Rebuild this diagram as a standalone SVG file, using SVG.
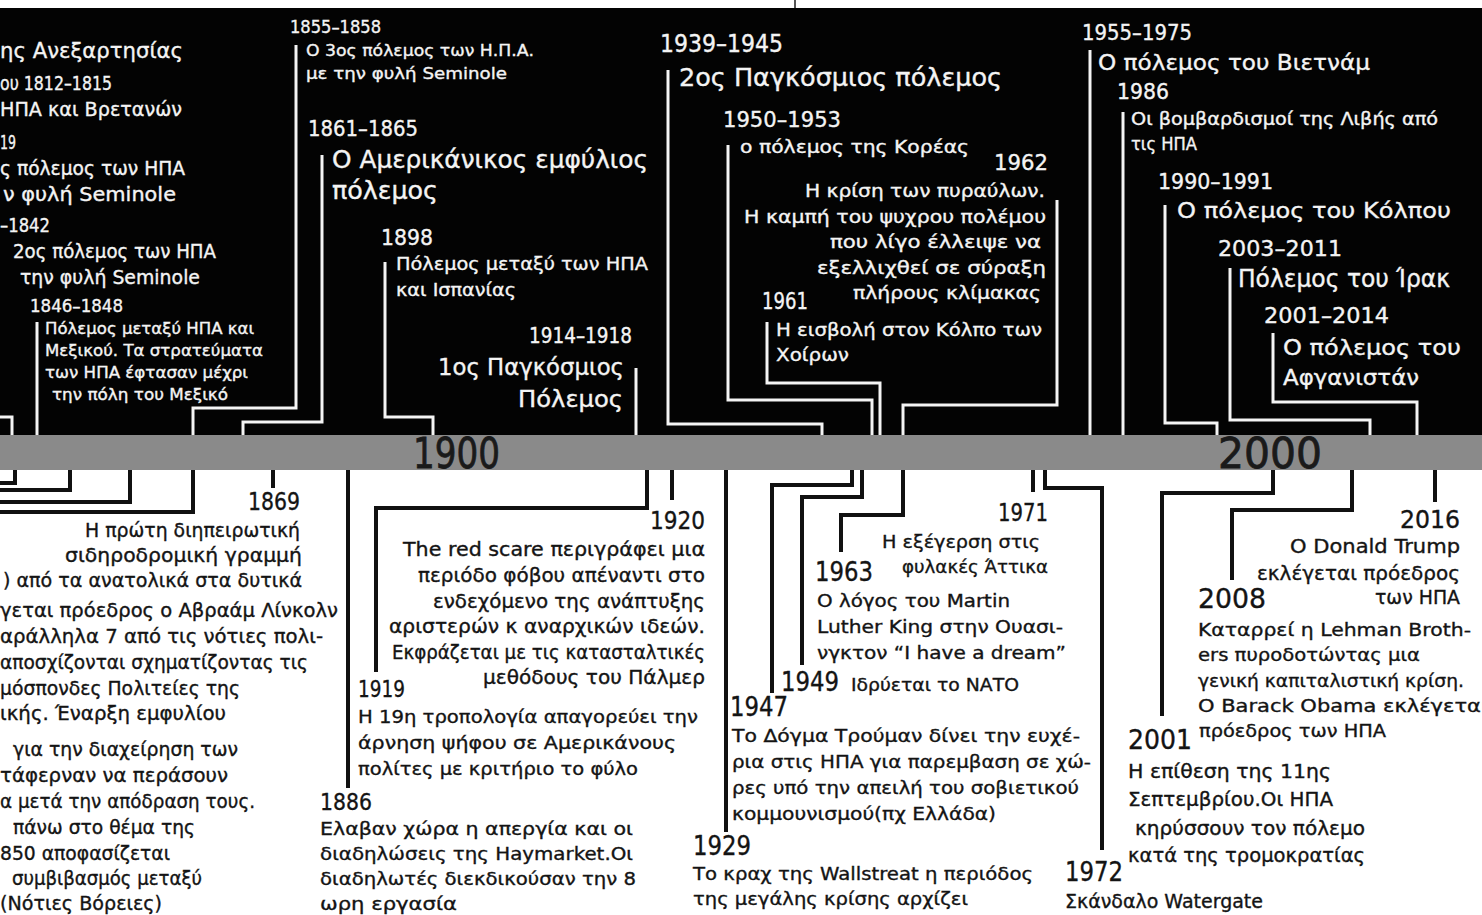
<svg xmlns="http://www.w3.org/2000/svg" width="1482" height="915" viewBox="0 0 1482 915">
<style>
text{font-family:"DejaVu Sans","Noto Sans",sans-serif;}
.w{fill:#f4f4f4;stroke:#f4f4f4;stroke-width:0.35;}
.k{fill:#141414;stroke:#141414;stroke-width:0.35;}
.lw{fill:none;stroke:#f4f4f4;stroke-width:3;}
.lk{fill:none;stroke:#111;stroke-width:4;}
.yr{font-size:43px;fill:#1a1a1a;stroke:#1a1a1a;stroke-width:0.8;}
</style>
<rect x="0" y="0" width="1482" height="915" fill="#fff"/>
<rect x="0" y="8" width="1482" height="427" fill="#030303"/>
<line x1="795" y1="0" x2="795" y2="8" stroke="#555" stroke-width="2"/>
<rect x="0" y="435" width="1482" height="35" fill="#8a8a8a"/>
<g id="axis-labels">
<text class="yr" x="413" y="468" textLength="87" lengthAdjust="spacingAndGlyphs">1900</text>
<text class="yr" x="1218" y="468" textLength="104" lengthAdjust="spacingAndGlyphs">2000</text>
</g>
<g id="connectors">
<polyline class="lw" points="37,322 37,435"/>
<polyline class="lw" points="0,417 12,417 12,435"/>
<polyline class="lw" points="296,45 296,408 193,408 193,435"/>
<polyline class="lw" points="322,155 322,422 243,422 243,435"/>
<polyline class="lw" points="385,262 385,417 433,417 433,435"/>
<polyline class="lw" points="636,368 636,435"/>
<polyline class="lw" points="668,70 668,424 822,424 822,435"/>
<polyline class="lw" points="728,145 728,400 872,400 872,435"/>
<polyline class="lw" points="767,322 767,383 880,383 880,435"/>
<polyline class="lw" points="1057,200 1057,405 903,405 903,435"/>
<polyline class="lw" points="1090,50 1090,435"/>
<polyline class="lw" points="1123,112 1123,435"/>
<polyline class="lw" points="1165,205 1165,423 1217,423 1217,435"/>
<polyline class="lw" points="1230,268 1230,420 1370,420 1370,435"/>
<polyline class="lw" points="1273,333 1273,402 1417,402 1417,435"/>
<polyline class="lk" points="15,470 15,483 0,483"/>
<polyline class="lk" points="70,470 70,490 0,490"/>
<polyline class="lk" points="130,470 130,502 0,502"/>
<polyline class="lk" points="193,470 193,512 0,512"/>
<polyline class="lk" points="273,470 273,488"/>
<polyline class="lk" points="348,470 348,788"/>
<polyline class="lk" points="647,470 647,508 376,508 376,672"/>
<polyline class="lk" points="672,470 672,500"/>
<polyline class="lk" points="726,470 726,832"/>
<polyline class="lk" points="852,470 852,485 772,485 772,693"/>
<polyline class="lk" points="862,470 862,497 802,497 802,665"/>
<polyline class="lk" points="903,470 903,515 841,515 841,552"/>
<polyline class="lk" points="1033,470 1033,492"/>
<polyline class="lk" points="1045,470 1045,488 1102,488 1102,850"/>
<polyline class="lk" points="1273,470 1273,493 1162,493 1162,716"/>
<polyline class="lk" points="1352,470 1352,510 1232,510 1232,580"/>
<polyline class="lk" points="1435,470 1435,502"/>
</g>
<g id="ev-left-top" class="w">
<text x="0" y="58" font-size="22" textLength="183" lengthAdjust="spacingAndGlyphs">ης Ανεξαρτησίας</text>
<text x="0" y="90" font-size="19" textLength="112" lengthAdjust="spacingAndGlyphs">ου 1812–1815</text>
<text x="0" y="116" font-size="19" textLength="182" lengthAdjust="spacingAndGlyphs">ΗΠΑ και  Βρετανών</text>
<text x="0" y="149" font-size="19" textLength="16" lengthAdjust="spacingAndGlyphs">19</text>
<text x="0" y="175" font-size="19" textLength="185" lengthAdjust="spacingAndGlyphs">ς πόλεμος των ΗΠΑ</text>
<text x="3" y="201" font-size="19" textLength="173" lengthAdjust="spacingAndGlyphs">ν φυλή Seminole</text>
<text x="0" y="232" font-size="19" textLength="50" lengthAdjust="spacingAndGlyphs">–1842</text>
<text x="13" y="258" font-size="19" textLength="203" lengthAdjust="spacingAndGlyphs">2ος πόλεμος των ΗΠΑ</text>
<text x="20" y="284" font-size="19" textLength="180" lengthAdjust="spacingAndGlyphs">την φυλή Seminole</text>
</g>
<g id="ev-1846" class="w">
<text x="30" y="312" font-size="17" textLength="93" lengthAdjust="spacingAndGlyphs">1846–1848</text>
<text x="45" y="334" font-size="15.5" textLength="209" lengthAdjust="spacingAndGlyphs">Πόλεμος μεταξύ ΗΠΑ και</text>
<text x="45" y="356" font-size="15.5" textLength="218" lengthAdjust="spacingAndGlyphs">Μεξικού. Τα στρατεύματα</text>
<text x="45" y="378" font-size="15.5" textLength="203" lengthAdjust="spacingAndGlyphs">των ΗΠΑ έφτασαν μέχρι</text>
<text x="52" y="400" font-size="15.5" textLength="176" lengthAdjust="spacingAndGlyphs">την πόλη του Μεξικό</text>
</g>
<g id="ev-1855" class="w">
<text x="290" y="33" font-size="17" textLength="91" lengthAdjust="spacingAndGlyphs">1855–1858</text>
<text x="306" y="56" font-size="16" textLength="228" lengthAdjust="spacingAndGlyphs">Ο 3ος πόλεμος των Η.Π.Α.</text>
<text x="306" y="79" font-size="16" textLength="201" lengthAdjust="spacingAndGlyphs">με την φυλή Seminole</text>
</g>
<g id="ev-1861" class="w">
<text x="308" y="136" font-size="22" textLength="110" lengthAdjust="spacingAndGlyphs">1861–1865</text>
<text x="332" y="168" font-size="24" textLength="316" lengthAdjust="spacingAndGlyphs">Ο Αμερικάνικος εμφύλιος</text>
<text x="332" y="199" font-size="24" textLength="106" lengthAdjust="spacingAndGlyphs">πόλεμος</text>
</g>
<g id="ev-1898" class="w">
<text x="381" y="245" font-size="22" textLength="52" lengthAdjust="spacingAndGlyphs">1898</text>
<text x="396" y="270" font-size="18" textLength="252" lengthAdjust="spacingAndGlyphs">Πόλεμος μεταξύ των ΗΠΑ</text>
<text x="396" y="296" font-size="18" textLength="120" lengthAdjust="spacingAndGlyphs">και Ισπανίας</text>
</g>
<g id="ev-1914" class="w" text-anchor="end">
<text x="632" y="343" font-size="22" textLength="103" lengthAdjust="spacingAndGlyphs">1914–1918</text>
<text x="624" y="375" font-size="23" textLength="186" lengthAdjust="spacingAndGlyphs">1ος Παγκόσμιος</text>
<text x="623" y="407" font-size="23" textLength="105" lengthAdjust="spacingAndGlyphs">Πόλεμος</text>
</g>
<g id="ev-1939" class="w">
<text x="660" y="52" font-size="24" textLength="123" lengthAdjust="spacingAndGlyphs">1939–1945</text>
<text x="679" y="86" font-size="25" textLength="323" lengthAdjust="spacingAndGlyphs">2ος Παγκόσμιος πόλεμος</text>
</g>
<g id="ev-1950" class="w">
<text x="723" y="127" font-size="22" textLength="118" lengthAdjust="spacingAndGlyphs">1950–1953</text>
<text x="740" y="153" font-size="18" textLength="229" lengthAdjust="spacingAndGlyphs">ο πόλεμος της Κορέας</text>
</g>
<g id="ev-1962" class="w" text-anchor="end">
<text x="1048" y="170" font-size="22" textLength="54" lengthAdjust="spacingAndGlyphs">1962</text>
<text x="1045" y="197" font-size="18" textLength="240" lengthAdjust="spacingAndGlyphs">Η κρίση των πυραύλων.</text>
<text x="1046" y="223" font-size="18" textLength="302" lengthAdjust="spacingAndGlyphs">Η καμπή του ψυχρου πολέμου</text>
<text x="1041" y="248" font-size="18" textLength="211" lengthAdjust="spacingAndGlyphs">που λίγο έλλειψε να</text>
<text x="1046" y="274" font-size="18" textLength="229" lengthAdjust="spacingAndGlyphs">εξελλιχθεί σε σύραξη</text>
<text x="1041" y="299" font-size="18" textLength="188" lengthAdjust="spacingAndGlyphs">πλήρους  κλίμακας</text>
</g>
<g id="ev-1961" class="w">
<text x="762" y="309" font-size="23" textLength="46" lengthAdjust="spacingAndGlyphs">1961</text>
<text x="776" y="336" font-size="18" textLength="266" lengthAdjust="spacingAndGlyphs">Η εισβολή στον Κόλπο των</text>
<text x="776" y="361" font-size="18" textLength="73" lengthAdjust="spacingAndGlyphs">Χοίρων</text>
</g>
<g id="ev-1955" class="w">
<text x="1082" y="40" font-size="22" textLength="110" lengthAdjust="spacingAndGlyphs">1955–1975</text>
<text x="1098" y="70" font-size="22" textLength="272" lengthAdjust="spacingAndGlyphs">Ο πόλεμος του Βιετνάμ</text>
</g>
<g id="ev-1986" class="w">
<text x="1117" y="99" font-size="22" textLength="52" lengthAdjust="spacingAndGlyphs">1986</text>
<text x="1131" y="125" font-size="17" textLength="307" lengthAdjust="spacingAndGlyphs">Οι βομβαρδισμοί της Λιβής από</text>
<text x="1131" y="150" font-size="17" textLength="66" lengthAdjust="spacingAndGlyphs">τις ΗΠΑ</text>
</g>
<g id="ev-1990" class="w">
<text x="1158" y="189" font-size="22" textLength="115" lengthAdjust="spacingAndGlyphs">1990–1991</text>
<text x="1177" y="218" font-size="22" textLength="274" lengthAdjust="spacingAndGlyphs">Ο πόλεμος του Κόλπου</text>
</g>
<g id="ev-2003" class="w">
<text x="1218" y="256" font-size="22" textLength="124" lengthAdjust="spacingAndGlyphs">2003–2011</text>
<text x="1238" y="287" font-size="24" textLength="212" lengthAdjust="spacingAndGlyphs">Πόλεμος του Ίρακ</text>
</g>
<g id="ev-2001-2014" class="w">
<text x="1264" y="323" font-size="22" textLength="125" lengthAdjust="spacingAndGlyphs">2001–2014</text>
<text x="1283" y="355" font-size="22" textLength="178" lengthAdjust="spacingAndGlyphs">Ο πόλεμος του</text>
<text x="1283" y="385" font-size="22" textLength="136" lengthAdjust="spacingAndGlyphs">Αφγανιστάν</text>
</g>
<g id="ev-1869" class="k" text-anchor="end">
<text x="300" y="510" font-size="24" textLength="52" lengthAdjust="spacingAndGlyphs">1869</text>
<text x="300" y="537" font-size="19" textLength="215" lengthAdjust="spacingAndGlyphs">Η πρώτη διηπειρωτική</text>
<text x="302" y="562" font-size="19" textLength="237" lengthAdjust="spacingAndGlyphs">σιδηροδρομική γραμμή</text>
<text x="302" y="587" font-size="19" textLength="299" lengthAdjust="spacingAndGlyphs">)  από τα ανατολικά στα δυτικά</text>
</g>
<g id="ev-left-bottom" class="k">
<text x="0" y="617" font-size="19" textLength="338" lengthAdjust="spacingAndGlyphs">γεται πρόεδρος ο Αβραάμ Λίνκολν</text>
<text x="0" y="643" font-size="19" textLength="323" lengthAdjust="spacingAndGlyphs">αράλληλα 7 από τις νότιες πολι-</text>
<text x="0" y="669" font-size="19" textLength="308" lengthAdjust="spacingAndGlyphs">αποσχίζονται σχηματίζοντας τις</text>
<text x="0" y="695" font-size="19" textLength="240" lengthAdjust="spacingAndGlyphs">μόσπονδες Πολιτείες της</text>
<text x="0" y="720" font-size="19" textLength="226" lengthAdjust="spacingAndGlyphs">ικής. Έναρξη εμφυλίου</text>
<text x="13" y="756" font-size="19" textLength="225" lengthAdjust="spacingAndGlyphs">για την διαχείρηση των</text>
<text x="0" y="782" font-size="19" textLength="228" lengthAdjust="spacingAndGlyphs">τάφερναν να περάσουν</text>
<text x="0" y="808" font-size="19" textLength="255" lengthAdjust="spacingAndGlyphs">α μετά την απόδραση τους.</text>
<text x="13" y="834" font-size="19" textLength="182" lengthAdjust="spacingAndGlyphs">πάνω στο θέμα της</text>
<text x="0" y="860" font-size="19" textLength="170" lengthAdjust="spacingAndGlyphs">850 αποφασίζεται</text>
<text x="12" y="885" font-size="19" textLength="190" lengthAdjust="spacingAndGlyphs">συμβιβασμός μεταξύ</text>
<text x="0" y="910" font-size="19" textLength="162" lengthAdjust="spacingAndGlyphs">(Νότιες Βόρειες)</text>
</g>
<g id="ev-1886" class="k">
<text x="320" y="810" font-size="23" textLength="52" lengthAdjust="spacingAndGlyphs">1886</text>
<text x="320" y="835" font-size="18" textLength="313" lengthAdjust="spacingAndGlyphs">Ελαβαν χώρα η απεργία και οι</text>
<text x="320" y="860" font-size="18" textLength="313" lengthAdjust="spacingAndGlyphs">διαδηλώσεις της Haymarket.Οι</text>
<text x="320" y="885" font-size="18" textLength="316" lengthAdjust="spacingAndGlyphs">διαδηλωτές διεκδικούσαν την 8</text>
<text x="320" y="910" font-size="18" textLength="137" lengthAdjust="spacingAndGlyphs">ωρη εργασία</text>
</g>
<g id="ev-1920" class="k" text-anchor="end">
<text x="705" y="529" font-size="24" textLength="55" lengthAdjust="spacingAndGlyphs">1920</text>
<text x="705" y="556" font-size="19" textLength="302" lengthAdjust="spacingAndGlyphs">The red scare περιγράφει μια</text>
<text x="705" y="582" font-size="19" textLength="287" lengthAdjust="spacingAndGlyphs">περιόδο φόβου απέναντι στο</text>
<text x="705" y="608" font-size="19" textLength="272" lengthAdjust="spacingAndGlyphs">ενδεχόμενο της ανάπτυξης</text>
<text x="705" y="633" font-size="19" textLength="316" lengthAdjust="spacingAndGlyphs">αριστερών κ αναρχικών ιδεών.</text>
<text x="705" y="659" font-size="19" textLength="313" lengthAdjust="spacingAndGlyphs">Εκφράζεται με τις κατασταλτικές</text>
<text x="705" y="684" font-size="19" textLength="222" lengthAdjust="spacingAndGlyphs">μεθόδους του Πάλμερ</text>
</g>
<g id="ev-1919" class="k">
<text x="358" y="697" font-size="23" textLength="47" lengthAdjust="spacingAndGlyphs">1919</text>
<text x="358" y="723" font-size="18" textLength="340" lengthAdjust="spacingAndGlyphs">Η 19η τροπολογία απαγορεύει την</text>
<text x="358" y="749" font-size="18" textLength="318" lengthAdjust="spacingAndGlyphs">άρνηση ψήφου σε Αμερικάνους</text>
<text x="358" y="775" font-size="18" textLength="280" lengthAdjust="spacingAndGlyphs">πολίτες με κριτήριο το φύλο</text>
</g>
<g id="ev-1929" class="k">
<text x="693" y="855" font-size="26" textLength="58" lengthAdjust="spacingAndGlyphs">1929</text>
<text x="693" y="880" font-size="18" textLength="340" lengthAdjust="spacingAndGlyphs">Το κραχ της Wallstreat η περιόδος</text>
<text x="693" y="905" font-size="18" textLength="275" lengthAdjust="spacingAndGlyphs">της μεγάλης κρίσης αρχίζει</text>
</g>
<g id="ev-1947" class="k">
<text x="730" y="716" font-size="26" textLength="58" lengthAdjust="spacingAndGlyphs">1947</text>
<text x="732" y="742" font-size="18" textLength="348" lengthAdjust="spacingAndGlyphs">Το Δόγμα Τρούμαν δίνει την ευχέ-</text>
<text x="732" y="768" font-size="18" textLength="359" lengthAdjust="spacingAndGlyphs">ρια στις ΗΠΑ για παρεμβαση σε χώ-</text>
<text x="732" y="794" font-size="18" textLength="347" lengthAdjust="spacingAndGlyphs">ρες υπό την απειλή του σοβιετικού</text>
<text x="732" y="820" font-size="18" textLength="264" lengthAdjust="spacingAndGlyphs">κομμουνισμού(πχ Ελλάδα)</text>
</g>
<g id="ev-1949" class="k">
<text x="781" y="691" font-size="26" textLength="58" lengthAdjust="spacingAndGlyphs">1949</text>
<text x="851" y="691" font-size="17" textLength="168" lengthAdjust="spacingAndGlyphs">Ιδρύεται το ΝΑΤΟ</text>
</g>
<g id="ev-1963" class="k">
<text x="815" y="581" font-size="26" textLength="58" lengthAdjust="spacingAndGlyphs">1963</text>
<text x="817" y="607" font-size="18" textLength="193" lengthAdjust="spacingAndGlyphs">Ο λόγος του Martin</text>
<text x="817" y="633" font-size="18" textLength="246" lengthAdjust="spacingAndGlyphs">Luther King στην Ουασι-</text>
<text x="817" y="659" font-size="18" textLength="249" lengthAdjust="spacingAndGlyphs">νγκτον “I have a dream”</text>
</g>
<g id="ev-1971" class="k" text-anchor="end">
<text x="1048" y="521" font-size="24" textLength="50" lengthAdjust="spacingAndGlyphs">1971</text>
<text x="1040" y="548" font-size="18" textLength="158" lengthAdjust="spacingAndGlyphs">Η εξέγερση στις</text>
<text x="1048" y="573" font-size="18" textLength="146" lengthAdjust="spacingAndGlyphs">φυλακές Άττικα</text>
</g>
<g id="ev-1972" class="k">
<text x="1065" y="881" font-size="26" textLength="58" lengthAdjust="spacingAndGlyphs">1972</text>
<text x="1065" y="908" font-size="19" textLength="198" lengthAdjust="spacingAndGlyphs">Σκάνδαλο Watergate</text>
</g>
<g id="ev-2016" class="k" text-anchor="end">
<text x="1460" y="528" font-size="24" textLength="60" lengthAdjust="spacingAndGlyphs">2016</text>
<text x="1460" y="553" font-size="19" textLength="170" lengthAdjust="spacingAndGlyphs">Ο Donald Trump</text>
<text x="1460" y="580" font-size="19" textLength="203" lengthAdjust="spacingAndGlyphs">εκλέγεται πρόεδρος</text>
<text x="1460" y="604" font-size="19" textLength="85" lengthAdjust="spacingAndGlyphs">των ΗΠΑ</text>
</g>
<g id="ev-2008" class="k">
<text x="1198" y="608" font-size="26" textLength="68" lengthAdjust="spacingAndGlyphs">2008</text>
<text x="1198" y="636" font-size="18" textLength="273" lengthAdjust="spacingAndGlyphs">Καταρρεί η Lehman Broth-</text>
<text x="1198" y="661" font-size="18" textLength="222" lengthAdjust="spacingAndGlyphs">ers πυροδοτώντας μια</text>
<text x="1198" y="687" font-size="18" textLength="266" lengthAdjust="spacingAndGlyphs">γενική καπιταλιστική κρίση.</text>
<text x="1198" y="712" font-size="18" textLength="290" lengthAdjust="spacingAndGlyphs">Ο Barack Obama εκλέγεται</text>
<text x="1199" y="737" font-size="17" textLength="187" lengthAdjust="spacingAndGlyphs">πρόεδρος των ΗΠΑ</text>
</g>
<g id="ev-2001" class="k">
<text x="1128" y="749" font-size="26" textLength="64" lengthAdjust="spacingAndGlyphs">2001</text>
<text x="1128" y="778" font-size="19" textLength="203" lengthAdjust="spacingAndGlyphs">Η επίθεση της 11ης</text>
<text x="1128" y="806" font-size="19" textLength="205" lengthAdjust="spacingAndGlyphs">Σεπτεμβρίου.Οι ΗΠΑ</text>
<text x="1135" y="835" font-size="19" textLength="230" lengthAdjust="spacingAndGlyphs">κηρύσσουν τον πόλεμο</text>
<text x="1128" y="862" font-size="19" textLength="237" lengthAdjust="spacingAndGlyphs">κατά της τρομοκρατίας</text>
</g>
</svg>
